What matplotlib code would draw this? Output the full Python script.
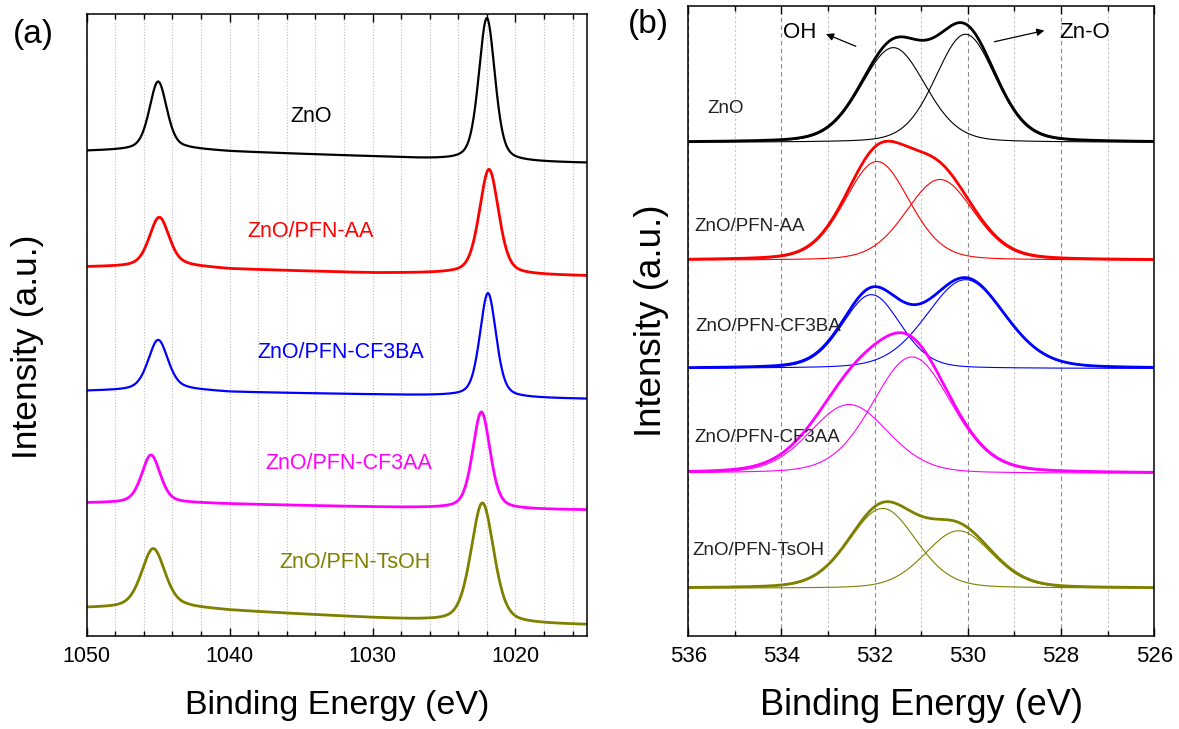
import numpy as np
import matplotlib
matplotlib.use("Agg")
import matplotlib.pyplot as plt
from matplotlib.ticker import MultipleLocator

plt.rcParams["font.family"] = ["Liberation Sans", "DejaVu Sans"]

# -----------------------------
# SAMPLES
# -----------------------------
samples = ["ZnO", "ZnO/PFN-AA", "ZnO/PFN-CF3BA", "ZnO/PFN-CF3AA", "ZnO/PFN-TsOH"]
colors = ["#000000", "#ff0000", "#0000ff", "#ff00ff", "#808000"]
line_w = [1.6, 2.0, 1.6, 2.0, 2.0]

# -----------------------------
# (a) Zn 2p  (stacked, a.u.)
# background knots + Zn 2p1/2 and Zn 2p3/2 peaks (centre eV, height, FWHM eV)
# -----------------------------
zn_bg_x = [1050, 1043, 1040, 1030, 1024.5, 1020, 1015]
zn_bg = [
    [485, 487, 484.5, 479.5, 476, 474, 473],
    [369, 370, 367, 363, 362.5, 361, 360],
    [245, 246.5, 244, 241.5, 240, 238, 237],
    [133, 133, 132, 129, 127.5, 126.5, 126],
    [28, 28.5, 25.5, 18, 14, 12, 11],
]
zn_pos_12 = [1045.0, 1044.92, 1045.0, 1045.5, 1045.34]
zn_h_12 = [68, 49, 50, 48, 59]
zn_w_12 = [1.45, 1.65, 1.65, 1.55, 1.95]
zn_pos_32 = [1022.0, 1021.85, 1021.92, 1022.38, 1022.31]
zn_h_32 = [143, 105, 104, 97, 120]
zn_w_32 = [1.35, 1.6, 1.35, 1.45, 1.9]

# label anchors (eV, a.u.)
zn_lab_x = [1034.3, 1034.3, 1032.2, 1031.65, 1031.2]
zn_lab_y = [519, 404, 283, 172, 73]

# -----------------------------
# (b) O 1s  (stacked, a.u.)
# flat background, OH component, Zn-O component (centre eV, height, FWHM eV)
# -----------------------------
o_bg = [494, 376, 267.7, 162.7, 47.7]
oh_pos = [531.6, 531.95, 532.07, 532.55, 531.83]
oh_h = [95, 99, 74, 69, 80]
oh_w = [1.63, 1.64, 1.47, 1.98, 1.7]
zno_pos = [530.05, 530.6, 530.05, 531.2, 530.2]
zno_h = [108.4, 81, 89, 116.6, 57.6]
zno_w = [1.52, 1.72, 1.98, 2.0, 1.7]

o_lab_x = [535.6, 535.88, 535.84, 535.88, 535.92]
o_lab_y = [528, 410, 310, 199, 86]


def pseudo_voigt(x, centre, height, fwhm, eta):
    d = (x - centre) / fwhm
    gauss = np.exp(-4 * np.log(2) * d ** 2)
    lorentz = 1 / (1 + 4 * d ** 2)
    return height * ((1 - eta) * gauss + eta * lorentz)


def style_axes(ax):
    for s in ax.spines.values():
        s.set_linewidth(1.1)
    ax.tick_params(axis="x", which="both", direction="in", top=True, bottom=True,
                   labelsize=15.5, pad=7.5)
    ax.tick_params(axis="x", which="major", length=6, width=1.0)
    ax.tick_params(axis="x", which="minor", length=3.3, width=1.0)
    ax.tick_params(axis="y", which="both", left=False, right=False, labelleft=False)


fig = plt.figure(figsize=(11.79, 7.29), dpi=100)

# -----------------------------
# panel (a)
# -----------------------------
ax1 = fig.add_axes([0.0735, 0.1276, 0.4243, 0.8532])
be_a = np.linspace(1050, 1015, 1400)
for i, name in enumerate(samples):
    bg = np.interp(be_a, zn_bg_x[::-1], zn_bg[i][::-1])
    y = (bg
         + pseudo_voigt(be_a, zn_pos_12[i], zn_h_12[i], zn_w_12[i], 0.4)
         + pseudo_voigt(be_a, zn_pos_32[i], zn_h_32[i], zn_w_32[i], 0.4))
    ax1.plot(be_a, y, color=colors[i], lw=line_w[i])
    ax1.text(zn_lab_x[i], zn_lab_y[i], name, color=colors[i], fontsize=15.5,
             ha="center", va="center")

ax1.set_xlim(1050, 1015)
ax1.set_ylim(0, 622)
ax1.set_xticks([1050, 1040, 1030, 1020])
ax1.xaxis.set_minor_locator(MultipleLocator(2))
ax1.grid(True, axis="x", which="both", color="#bdbdbd", ls=":", lw=0.8)
style_axes(ax1)
ax1.set_xlabel("Binding Energy (eV)", fontsize=24.5, va="center")
ax1.xaxis.set_label_coords(0.5, -0.1125)
ax1.set_ylabel("Intensity (a.u.)", fontsize=25.5, va="center")
ax1.yaxis.set_label_coords(-0.119, 0.465)

# -----------------------------
# panel (b)
# -----------------------------
ax2 = fig.add_axes([0.5838, 0.1276, 0.3952, 0.8642])
be_b = np.linspace(536, 526, 1000)
for i, name in enumerate(samples):
    oh = pseudo_voigt(be_b, oh_pos[i], oh_h[i], oh_w[i], 0.2)
    zo = pseudo_voigt(be_b, zno_pos[i], zno_h[i], zno_w[i], 0.2)
    env = o_bg[i] + oh + zo
    ax2.plot(be_b, env, color=colors[i], lw=2.0)
    ax2.plot(be_b, env, color=colors[i], lw=0.8)
    ax2.plot(be_b, o_bg[i] + oh, color=colors[i], lw=0.8)
    ax2.plot(be_b, o_bg[i] + zo, color=colors[i], lw=0.8)
    ax2.text(o_lab_x[i], o_lab_y[i], name, color="#222222", fontsize=13.5,
             ha="left", va="center")

ax2.text(533.62, 604.3, "OH", fontsize=16, ha="center", va="center")
ax2.annotate("", xy=(533.1, 603.7), xytext=(532.35, 589.3),
             arrowprops=dict(arrowstyle="-|>", color="black", lw=0.9,
                             mutation_scale=11))
ax2.text(527.49, 603.7, "Zn-O", fontsize=16, ha="center", va="center")
ax2.annotate("", xy=(528.3, 606.7), xytext=(529.49, 594.3),
             arrowprops=dict(arrowstyle="-|>", color="black", lw=0.9,
                             mutation_scale=11))

ax2.set_xlim(536, 526)
ax2.set_ylim(0, 630.7)
ax2.xaxis.set_major_locator(MultipleLocator(2))
ax2.xaxis.set_minor_locator(MultipleLocator(1))
ax2.grid(True, axis="x", which="major", color="#8c8c8c", ls=(0, (4, 3)), lw=0.8)
ax2.grid(True, axis="x", which="minor", color="#c4c4c4", ls=(0, (2, 2)), lw=0.8)
style_axes(ax2)
ax2.tick_params(axis="x", labelsize=16)
ax2.set_xlabel("Binding Energy (eV)", fontsize=26, va="center")
ax2.xaxis.set_label_coords(0.5, -0.111)
ax2.set_ylabel("Intensity (a.u.)", fontsize=26.5, va="center")
ax2.yaxis.set_label_coords(-0.079, 0.5)

fig.text(33 / 1179, 1 - 34 / 729, "(a)", fontsize=24, ha="center", va="center")
fig.text(648 / 1179, 1 - 24 / 729, "(b)", fontsize=24, ha="center", va="center")

fig.savefig("out.png", dpi=100)
